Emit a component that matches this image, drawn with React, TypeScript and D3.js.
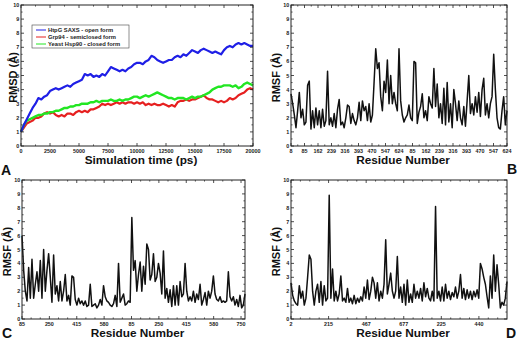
import * as d3 from 'd3';

const FONT = "'Liberation Sans', Arial, Helvetica, sans-serif";

// ---- Panel A: backbone RMSD (Å) over 20 ns, one sample every 250 ps
const htpgRmsd = [
  1.0, 1.5, 1.9, 2.3, 2.7, 3.0, 3.4, 3.3, 3.5, 3.6,
  3.9, 4.0, 4.1, 4.0, 4.1, 4.2, 4.3, 4.2, 4.4, 4.5,
  4.6, 4.7, 5.1, 5.0, 5.1, 4.9, 5.0, 4.9, 5.1, 5.0,
  5.3, 5.6, 5.5, 5.4, 5.3, 5.4, 5.3, 5.5, 5.6, 5.8,
  5.9, 5.9, 5.8, 6.0, 6.1, 6.4, 6.3, 6.1, 6.0, 5.9,
  6.0, 6.1, 6.1, 6.3, 6.4, 6.3, 6.5, 6.4, 6.6, 6.8,
  6.7, 6.6, 6.8, 6.9, 6.8, 6.7, 6.6, 6.7, 6.6, 6.5,
  6.8, 7.0, 7.1, 7.0, 7.2, 7.3, 7.2, 7.3, 7.2, 7.1,
  7.1,
];
const grp94Rmsd = [
  1.0, 1.3, 1.6, 1.7, 1.8, 2.0, 2.0, 2.1, 2.3, 2.4,
  2.3, 2.4, 2.2, 2.1, 2.2, 2.1, 2.3, 2.3, 2.2, 2.4,
  2.5, 2.4, 2.5, 2.4, 2.6, 2.6, 2.7, 2.8, 3.0, 2.9,
  3.0, 2.9, 3.0, 3.1, 3.0, 3.1, 3.0, 3.1, 3.1, 3.0,
  3.1, 3.0, 3.1, 2.9, 3.0, 2.9, 3.0, 2.9, 2.9, 3.0,
  2.9, 2.8, 2.9, 2.8, 3.1, 3.2, 3.2, 3.3, 3.2, 3.3,
  3.3, 3.4, 3.5, 3.6, 3.4, 3.3, 3.3, 3.2, 3.1, 3.2,
  3.1, 3.2, 3.4, 3.3, 3.4, 3.6, 3.7, 3.8, 4.0, 4.1,
  4.0,
];
const hsp90Rmsd = [
  1.0, 1.5, 1.8, 1.9, 2.0, 2.1, 2.2, 2.2, 2.3, 2.3,
  2.4, 2.4, 2.5, 2.5, 2.6, 2.7, 2.7, 2.8, 2.8, 2.9,
  2.9, 3.0, 3.0, 3.0, 3.1, 3.1, 3.2, 3.1, 3.2, 3.2,
  3.2, 3.3, 3.2, 3.2, 3.3, 3.2, 3.3, 3.3, 3.4, 3.5,
  3.5, 3.4, 3.5, 3.6, 3.5, 3.6, 3.7, 3.8, 3.7, 3.6,
  3.5, 3.4, 3.4, 3.3, 3.4, 3.4, 3.4, 3.3, 3.4, 3.5,
  3.4, 3.5, 3.5, 3.6, 3.7, 3.8, 4.0, 4.1, 4.2, 4.2,
  4.3, 4.3, 4.3, 4.2, 4.3, 4.1, 4.2, 4.4, 4.5, 4.4,
  4.3,
];
const timeTicks = ['0', '2500', '5000', '7500', '10000', '12500', '15000', '17500', '20000'];
const legendNames = ['HtpG SAXS - open form', 'Grp94 - semiclosed form', 'Yeast Hsp90 - closed form'];
const seriesColors = ['#1f1fe6', '#e62020', '#22e622'];

// ---- Panels B-D: per-residue RMSF (Å), both protomers side by side
const residueTicksB = ['8', '85', '162', '239', '316', '393', '470', '547', '624', '85', '162', '239', '316', '393', '470', '547', '624'];
const rmsfB = [
  3.7, 3.0, 2.2, 1.3, 2.5, 3.8, 2.0, 2.6, 1.5, 1.7,
  4.3, 4.6, 1.2, 2.5, 1.3, 2.7, 1.5, 2.5, 1.3, 2.6,
  1.4, 1.8, 5.3, 1.5, 2.0, 1.4, 2.3, 1.3, 2.6, 3.3,
  1.5, 1.7, 1.3, 2.0, 2.9, 2.8, 1.6, 2.3, 1.8, 1.5,
  2.0, 3.1, 1.8, 3.2, 2.5, 2.8, 1.8, 3.0, 1.7, 2.2,
  4.5, 6.9, 5.5, 5.9, 3.5, 2.5, 4.6, 3.8, 6.1, 3.0,
  5.0, 3.0, 3.8, 3.0, 2.5, 6.9, 3.2, 2.2, 1.7, 2.0,
  2.2, 2.9, 2.0, 1.8, 6.0, 5.9, 1.6, 2.4, 2.8, 3.7,
  2.0, 2.5, 1.8, 3.5, 3.0, 2.7, 5.5, 2.8, 4.4, 2.0,
  3.0, 1.6, 4.1, 1.5, 4.5, 1.7, 3.0, 1.3, 4.0, 3.0,
  1.8, 3.2, 2.0, 1.5, 2.8, 1.4, 3.2, 5.0, 2.3, 3.0,
  2.2, 3.5, 2.4, 3.8, 2.1, 4.0, 4.8, 2.2, 3.0, 2.0,
  3.0, 3.5, 6.5, 4.0, 2.0, 1.3, 1.2, 2.5, 3.5, 1.5,
  2.5,
];
const residueTicksC = ['85', '250', '415', '580', '85', '250', '415', '580', '750'];
const rmsfC = [
  6.0, 3.5, 2.0, 1.3, 3.7, 1.5, 4.3, 1.5, 2.5, 3.4,
  2.0, 4.2, 1.5, 5.0, 2.0, 3.5, 4.7, 3.0, 1.2, 4.6,
  1.8, 2.4, 1.3, 2.7, 1.3, 2.0, 3.2, 1.3, 1.7, 1.0,
  3.1, 3.0, 1.4, 1.0, 1.5, 1.1, 1.3, 1.0, 1.3, 0.9,
  1.0, 2.5, 0.9, 1.0, 1.1, 0.8, 1.0, 1.4, 1.0, 2.4,
  1.6, 1.3, 1.2, 1.0, 0.9, 1.1, 1.7, 0.9, 4.0, 1.2,
  1.5, 1.8, 1.0, 1.1, 1.3, 1.2, 7.3, 3.5, 4.2, 2.0,
  3.2, 4.1, 2.0, 3.8, 2.5, 5.4, 5.0, 2.8, 3.2, 4.7,
  2.7, 3.0, 4.0, 3.3, 1.8, 4.9, 1.5, 2.2, 1.2, 2.1,
  0.9, 2.4, 1.0, 2.4, 1.0, 2.7, 1.6, 1.8, 4.0, 2.0,
  1.3, 1.6, 1.3, 2.0, 1.2, 1.8, 1.4, 2.5, 1.0, 1.4,
  1.9, 1.0, 2.0, 1.5, 2.0, 3.1, 1.8, 1.4, 1.3, 1.6,
  1.2, 1.3, 1.2, 1.3, 3.4, 1.6, 1.3, 1.6, 1.0, 1.4,
  0.9, 1.7, 0.8, 1.0, 1.8,
];
const residueTicksD = ['2', '215', '467', '677', '225', '440'];
const rmsfD = [
  2.6, 1.7, 1.3, 1.1, 1.0, 2.4, 1.5, 2.0, 1.0, 1.5,
  3.0, 4.6, 4.3, 2.0, 1.0, 2.0, 2.5, 1.2, 2.7, 1.0,
  2.4, 1.3, 1.5, 8.9, 1.5, 3.6, 1.3, 2.0, 1.3, 1.8,
  3.1, 1.3, 1.5, 1.2, 2.2, 1.2, 1.5, 1.1, 1.7, 1.1,
  1.5, 1.2, 1.6, 1.3, 2.3, 1.5, 2.8, 1.4, 2.0, 3.0,
  2.6, 1.5, 2.6, 1.3, 2.0, 1.5, 2.5, 5.7, 1.8, 2.5,
  3.3, 2.0, 1.5, 2.0, 4.5, 1.5, 2.3, 1.2, 2.5, 1.0,
  2.8, 1.2, 1.8, 1.2, 2.5, 1.5, 2.0, 1.5, 2.2, 1.3,
  2.6, 1.6, 2.2, 1.5, 1.3, 2.0, 1.3, 8.1, 1.5, 2.0,
  1.3, 2.3, 1.3, 2.5, 1.5, 2.0, 1.4, 1.9, 1.6, 2.3,
  1.5, 2.0, 3.2, 1.5, 2.2, 1.4, 2.1, 1.5, 2.0, 1.4,
  2.0, 1.6, 2.1, 1.5, 4.0, 3.6, 3.0, 2.5, 1.6, 0.8,
  3.1, 1.5, 4.6, 2.0, 3.9, 2.5, 0.8, 1.2, 1.0, 1.5,
  2.7,
];

type Series = { values: number[]; color: string; width: number };

type PanelProps = {
  box: [number, number, number, number]; // left, top, right, bottom
  xMax: number;
  majorStep: number;
  minorCount: number;
  tickLabels: string[];
  series: Series[];
  yTitle: string;
  yTitleX: number;
  xTitle: string;
  letter: string;
  letterX: number;
  letterY: number;
};

const Panel = ({ box, xMax, majorStep, minorCount, tickLabels, series, yTitle, yTitleX, xTitle, letter, letterX, letterY }: PanelProps) => {
  const [l, t, r, b] = box;
  const x = d3.scaleLinear().domain([0, xMax]).range([l, r]);
  const y = d3.scaleLinear().domain([0, 10]).range([b, t]);

  const xMajors = tickLabels.map((_, i) => i * majorStep);
  const xMinors: number[] = [];
  xMajors.forEach((m) => {
    for (let k = 1; k <= minorCount; k++) {
      const v = m + (k * majorStep) / (minorCount + 1);
      if (v < xMax) xMinors.push(v);
    }
  });
  const yMajors = d3.range(0, 11);
  const yMinors = d3.range(0.5, 10, 1);

  const MAJ = 3;
  const MIN = 1.6;
  const tickColor = '#222';

  return (
    <g>
      {series.map((s, i) => {
        const step = xMax / (s.values.length - 1);
        const line = d3
          .line<number>()
          .x((_, j) => x(j * step))
          .y((d) => y(d));
        return <path key={i} d={line(s.values)!} fill="none" stroke={s.color} strokeWidth={s.width} strokeLinejoin="round" />;
      })}
      <rect x={l} y={t} width={r - l} height={b - t} fill="none" stroke="#222" strokeWidth={1} />
      {/* x ticks, bottom and top, pointing inward */}
      {xMajors.map((v, i) => (
        <g key={'xm' + i}>
          <line x1={x(v)} x2={x(v)} y1={b} y2={b - MAJ} stroke={tickColor} strokeWidth={0.8} />
          <line x1={x(v)} x2={x(v)} y1={t} y2={t + MAJ} stroke={tickColor} strokeWidth={0.8} />
          <text x={x(v)} y={b + 6.6} textAnchor="middle" fontSize={5.4} fontWeight="bold" fontFamily={FONT} fill="#222">
            {tickLabels[i]}
          </text>
        </g>
      ))}
      {xMinors.map((v, i) => (
        <g key={'xn' + i}>
          <line x1={x(v)} x2={x(v)} y1={b} y2={b - MIN} stroke={tickColor} strokeWidth={0.7} />
          <line x1={x(v)} x2={x(v)} y1={t} y2={t + MIN} stroke={tickColor} strokeWidth={0.7} />
        </g>
      ))}
      {/* y ticks, left and right */}
      {yMajors.map((v) => (
        <g key={'ym' + v}>
          <line x1={l} x2={l + MAJ} y1={y(v)} y2={y(v)} stroke={tickColor} strokeWidth={0.8} />
          <line x1={r} x2={r - MAJ} y1={y(v)} y2={y(v)} stroke={tickColor} strokeWidth={0.8} />
          <text x={l - 1.8} y={y(v) + 2} textAnchor="end" fontSize={5.4} fontWeight="bold" fontFamily={FONT} fill="#222">
            {v}
          </text>
        </g>
      ))}
      {yMinors.map((v) => (
        <g key={'yn' + v}>
          <line x1={l} x2={l + MIN} y1={y(v)} y2={y(v)} stroke={tickColor} strokeWidth={0.7} />
          <line x1={r} x2={r - MIN} y1={y(v)} y2={y(v)} stroke={tickColor} strokeWidth={0.7} />
        </g>
      ))}
      <text
        transform={`translate(${yTitleX},${(t + b) / 2 + 2}) rotate(-90)`}
        textAnchor="middle"
        fontSize={11}
        fontWeight="bold"
        fontFamily={FONT}
        fill="#111"
      >
        {yTitle}
      </text>
      <text x={(l + r) / 2 + 4} y={b + 18} textAnchor="middle" fontSize={11.8} fontWeight="bold" fontFamily={FONT} fill="#111">
        {xTitle}
      </text>
      <text x={letterX} y={letterY} fontSize={14} fontWeight="bold" fontFamily={FONT} fill="#111">
        {letter}
      </text>
    </g>
  );
};

export default function App() {
  const rmsdSeries: Series[] = [
    { values: grp94Rmsd, color: seriesColors[1], width: 2.2 },
    { values: hsp90Rmsd, color: seriesColors[2], width: 2.4 },
    { values: htpgRmsd, color: seriesColors[0], width: 2.2 },
  ];
  const legendX = 32;
  const legendY = 25;

  return (
    <svg width={518} height={340} style={{ position: 'absolute', left: 0, top: 0, background: '#fff' }}>
      <rect width={518} height={340} fill="#fff" />
      <Panel
        box={[21, 5, 253, 146]}
        xMax={20000}
        majorStep={2500}
        minorCount={1}
        tickLabels={timeTicks}
        series={rmsdSeries}
        yTitle="RMSD (Å)"
        yTitleX={16.5}
        xTitle="Simulation time (ps)"
        letter="A"
        letterX={1}
        letterY={175}
      />
      <g>
        <rect x={legendX} y={legendY} width={97} height={23} fill="#fff" stroke="#444" strokeWidth={0.6} />
        {legendNames.map((name, i) => (
          <g key={name}>
            <line x1={legendX + 4} x2={legendX + 14} y1={legendY + 5 + i * 7} y2={legendY + 5 + i * 7} stroke={seriesColors[i]} strokeWidth={1} />
            <text x={legendX + 16} y={legendY + 7 + i * 7} fontSize={5.8} fontWeight="bold" fontFamily={FONT} fill="#222">
              {name}
            </text>
          </g>
        ))}
      </g>
      <Panel
        box={[291, 5, 507, 146]}
        xMax={1232}
        majorStep={77}
        minorCount={1}
        tickLabels={residueTicksB}
        series={[{ values: rmsfB, color: '#111', width: 1.5 }]}
        yTitle="RMSF (Å)"
        yTitleX={280}
        xTitle="Residue Number"
        letter="B"
        letterX={507}
        letterY={174}
      />
      <Panel
        box={[22, 180, 245, 319]}
        xMax={1344}
        majorStep={165}
        minorCount={2}
        tickLabels={residueTicksC}
        series={[{ values: rmsfC, color: '#111', width: 1.5 }]}
        yTitle="RMSF (Å)"
        yTitleX={11}
        xTitle="Residue Number"
        letter="C"
        letterX={2}
        letterY={338}
      />
      <Panel
        box={[291, 180, 507, 319]}
        xMax={1207}
        majorStep={210}
        minorCount={3}
        tickLabels={residueTicksD}
        series={[{ values: rmsfD, color: '#111', width: 1.5 }]}
        yTitle="RMSF (Å)"
        yTitleX={280}
        xTitle="Residue Number"
        letter="D"
        letterX={506}
        letterY={338}
      />
    </svg>
  );
}
